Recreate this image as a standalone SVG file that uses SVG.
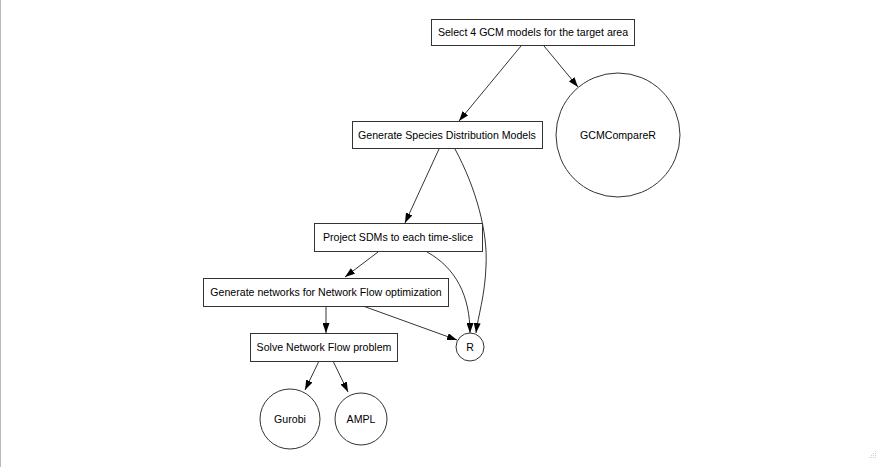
<svg xmlns="http://www.w3.org/2000/svg" width="879" height="467" viewBox="0 0 879 467">
<style>
.n rect,.n circle{fill:#fff;stroke:#333;stroke-width:1}
.n text{font-family:"Liberation Sans",Arial,sans-serif;font-size:10.6px;fill:#000;text-anchor:middle}
.e path{fill:none;stroke:#000;stroke-width:0.8}
</style>
<defs>
<marker id="ah" viewBox="0 0 10 7" refX="10" refY="3.5" markerWidth="10" markerHeight="7" markerUnits="userSpaceOnUse" orient="auto">
<path d="M0,0 L10,3.5 L0,7 z" fill="#000"/>
</marker>
</defs>
<rect x="0" y="0" width="879" height="467" fill="#fff"/>
<line x1="0.5" y1="0" x2="0.5" y2="467" stroke="#bbb" stroke-width="1"/>
<g id="edges" class="e">
<path d="M521,46 L459,121" marker-end="url(#ah)"/>
<path d="M544,46 L578,87" marker-end="url(#ah)"/>
<path d="M439,149 L405,223" marker-end="url(#ah)"/>
<path d="M455,149 C476,188 488,232 486,266 C485,296 478,316 476,333" marker-end="url(#ah)"/>
<path d="M378,252 L345,277" marker-end="url(#ah)"/>
<path d="M427,252 C456,268 470,296 470,333" marker-end="url(#ah)"/>
<path d="M326,306 L326,333" marker-end="url(#ah)"/>
<path d="M363,306 L457,340" marker-end="url(#ah)"/>
<path d="M319,361 L305,390" marker-end="url(#ah)"/>
<path d="M333,361 L348,392" marker-end="url(#ah)"/>
</g>
<g id="select" class="n"><rect x="431.5" y="19.5" width="203" height="26"/><text x="533" y="36">Select 4 GCM models for the target area</text></g>
<g id="gcmcomparer" class="n"><circle cx="618" cy="135" r="62"/><text x="618" y="139">GCMCompareR</text></g>
<g id="sdm" class="n"><rect x="352.5" y="121.5" width="190" height="27"/><text x="447" y="139">Generate Species Distribution Models</text></g>
<g id="project" class="n"><rect x="314.5" y="223.5" width="168" height="28"/><text x="398" y="241">Project SDMs to each time-slice</text></g>
<g id="networks" class="n"><rect x="203.5" y="278.5" width="245" height="28"/><text x="326" y="296">Generate networks for Network Flow optimization</text></g>
<g id="solve" class="n"><rect x="250.5" y="333.5" width="147" height="28"/><text x="324" y="351">Solve Network Flow problem</text></g>
<g id="r" class="n"><circle cx="470" cy="347" r="14"/><text x="470" y="351">R</text></g>
<g id="gurobi" class="n"><circle cx="290" cy="419" r="30"/><text x="290" y="423">Gurobi</text></g>
<g id="ampl" class="n"><circle cx="361" cy="419" r="26"/><text x="361" y="423">AMPL</text></g>
<g fill="#ccc">
<rect x="875" y="451" width="1" height="1"/><rect x="873" y="453" width="1" height="1"/><rect x="875" y="453" width="1" height="1"/>
<rect x="871" y="455" width="1" height="1"/><rect x="873" y="455" width="1" height="1"/><rect x="875" y="455" width="1" height="1"/>
<rect x="869" y="457" width="1" height="1"/><rect x="871" y="457" width="1" height="1"/><rect x="873" y="457" width="1" height="1"/><rect x="875" y="457" width="1" height="1"/>
</g>
</svg>
